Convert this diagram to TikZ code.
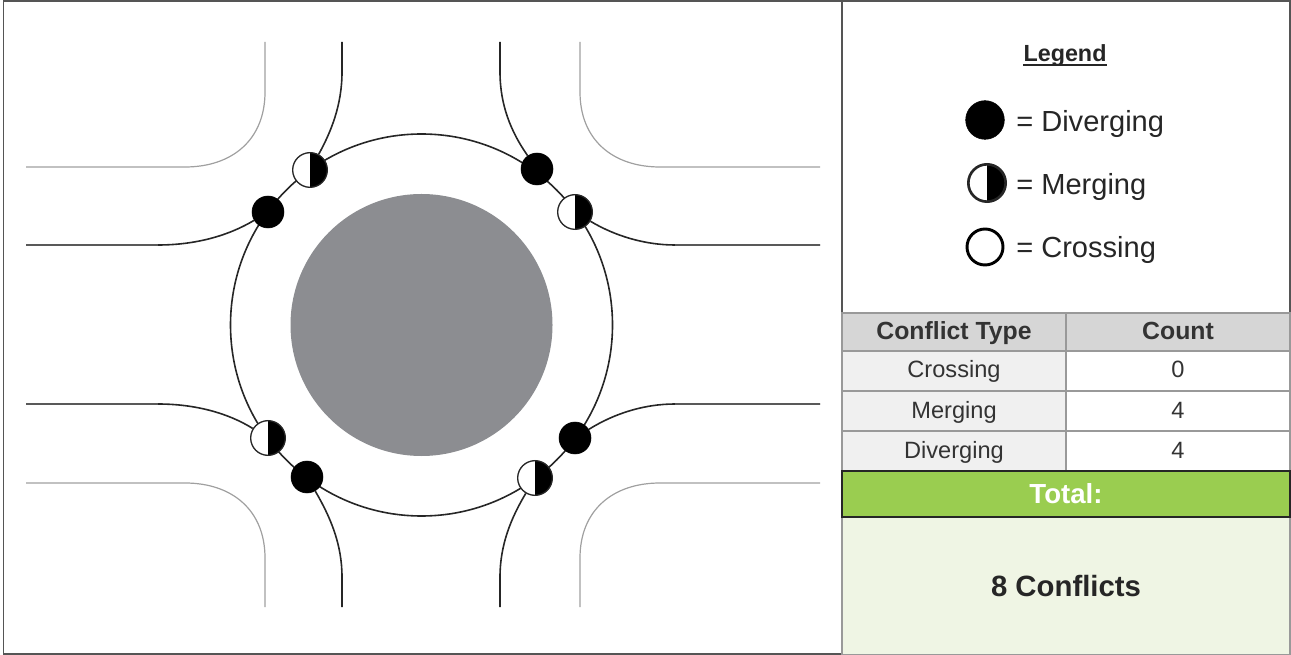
\documentclass[tikz,border=0pt]{standalone}
\usepackage{fontspec}
\setmainfont{Liberation Sans}
\definecolor{islandgray}{RGB}{140,141,145}
\definecolor{curbgray}{RGB}{160,160,160}
\definecolor{framegray}{RGB}{85,85,85}
\definecolor{cellgray}{RGB}{153,153,153}
\definecolor{headfill}{RGB}{214,214,214}
\definecolor{labelfill}{RGB}{240,240,240}
\definecolor{totalgreen}{RGB}{154,205,80}
\definecolor{resultfill}{RGB}{239,245,228}
\definecolor{tabletext}{RGB}{51,51,51}
\tikzset{
  road/.style={line width=1.2pt,color=black!85},
  roadend/.style={line width=1.9pt,color=black!65},
  curb/.style={line width=0.9pt,color=curbgray},
  diverge/.style={circle,fill=black,draw=black,minimum size=24pt,inner sep=0pt},
  merge/.style={circle,fill=white,draw=black!85,line width=1pt,minimum size=26pt,inner sep=0pt,
    path picture={\fill[black] (path picture bounding box.north) rectangle (path picture bounding box.south east);}},
  cross/.style={circle,fill=white,draw=black,line width=2.2pt,minimum size=27pt,inner sep=0pt},
  legendtext/.style={anchor=base west,inner sep=0pt,font=\fontsize{21.8}{24}\selectfont,color=black!85},
  cell/.style={draw=cellgray,line width=1pt,minimum width=168pt,minimum height=30pt,inner sep=0pt,
    text height=13pt,text depth=2.5pt,text=tabletext,font=\fontsize{17.7}{20}\selectfont},
  headcell/.style={cell,fill=headfill,minimum height=28.5pt,text height=14pt,text depth=2pt,font=\fontsize{18.6}{22}\selectfont\bfseries},
}
\begin{document}
\begin{tikzpicture}[x=0.75pt,y=0.75pt,yscale=-1,xscale=1]
\useasboundingbox (0,0) rectangle (1291,655);

%Shape: Island and ring
\node [circle,fill=islandgray,minimum size=196.5pt,inner sep=0pt] (island) at (421.5,325) {};
\node [circle,draw=black!85,line width=1.2pt,minimum size=286.5pt,inner sep=0pt] (ring) at (421.5,325) {};

%Shape: Curbs
\draw [curb] (265,42) -- (265,92) .. controls (265,140) and (232,167) .. (185,167) -- (26,167);
\draw [curb] (580,42) -- (580,92) .. controls (580,140) and (613,167) .. (660,167) -- (820,167);
\draw [curb] (26,483) -- (185,483) .. controls (232,483) and (265,510) .. (265,558) -- (265,607);
\draw [curb] (820,483) -- (660,483) .. controls (613,483) and (580,510) .. (580,558) -- (580,607);

%Shape: Conflict points
\node [merge] (mergeNW) at (310,170) {};
\node [diverge] (divergeNW) at (268,212) {};
\node [diverge] (divergeNE) at (537,169) {};
\node [merge] (mergeNE) at (575,212) {};
\node [merge] (mergeSW) at (268,438) {};
\node [diverge] (divergeSW) at (307,477) {};
\node [merge] (mergeSE) at (535,478) {};
\node [diverge] (divergeSE) at (575,438) {};

%Free road ends
\coordinate (northL) at (342,42);
\coordinate (northR) at (500,42);
\coordinate (southL) at (342,607);
\coordinate (southR) at (500,607);
\coordinate (westU) at (26,245);
\coordinate (westD) at (26,404);
\coordinate (eastU) at (820,245);
\coordinate (eastD) at (820,404);

%Roads
\draw [road] (northL) -- ++(0,30) .. controls (342,105) and (331,132) .. (mergeNW);
\draw [road] (northR) -- ++(0,30) .. controls (500,105) and (511,132) .. (divergeNE);
\draw [road] (southL) -- ++(0,-30) .. controls (342,545) and (331,518) .. (divergeSW);
\draw [road] (southR) -- ++(0,-30) .. controls (500,545) and (511,518) .. (mergeSE);
\draw [road] (westU) -- ++(132,0) .. controls (195,245) and (228,236) .. (divergeNW);
\draw [road] (westD) -- ++(132,0) .. controls (195,404) and (228,413) .. (mergeSW);
\draw [road] (eastU) -- ++(-145,0) .. controls (645,245) and (615,236) .. (mergeNE);
\draw [road] (eastD) -- ++(-145,0) .. controls (645,404) and (615,413) .. (divergeSE);
\draw [roadend] (westU) -- ++(132,0);
\draw [roadend] (westD) -- ++(132,0);
\draw [roadend] (eastU) -- ++(-145,0);
\draw [roadend] (eastD) -- ++(-145,0);

%Frame
\draw [framegray,line width=1pt] (3.5,1) rectangle (1290,654);
\draw [framegray,line width=1pt] (842,1) -- (842,313);

% Legend
\node [anchor=base,inner sep=0pt,font=\fontsize{17.5}{20}\selectfont\bfseries,color=black!85] (legend) at (1065,62) {Legend};
\draw [black!85,line width=1pt] ([yshift=2.2pt]legend.base west) -- ([yshift=2.2pt]legend.base east);
\node [diverge,minimum size=29pt] (keyDiverge) at (985,120) {};
\node [merge,line width=2pt,minimum size=28pt] (keyMerge) at (987,183) {};
\node [cross] (keyCross) at (985,247) {};
\node [legendtext] (textDiverge) at (1016,132) {= Diverging};
\node [legendtext] (textMerge) at (1016,195) {= Merging};
\node [legendtext] (textCross) at (1016,258) {= Crossing};

% Table
\node [headcell] (headType) at (954,332) {Conflict Type};
\node [headcell] (headCount) at (1178,332) {Count};
\node [cell,fill=labelfill] (rowCross) at (954,371) {Crossing};
\node [cell] (countCross) at (1178,371) {0};
\node [cell,fill=labelfill] (rowMerge) at (954,411) {Merging};
\node [cell] (countMerge) at (1178,411) {4};
\node [cell,fill=labelfill] (rowDiverge) at (954,451) {Diverging};
\node [cell] (countDiverge) at (1178,451) {4};

% Total
\node [draw=black!85,fill=totalgreen,line width=1pt,minimum width=336pt,minimum height=34.5pt,inner sep=0pt,
  text height=16pt,text depth=1.5pt,text=white,font=\fontsize{20.7}{24}\selectfont\bfseries] (total) at (1066,494) {Total:};
\node [draw=cellgray,fill=resultfill,line width=1pt,minimum width=336pt,minimum height=103pt,inner sep=0pt,
  text=black!85,font=\fontsize{22}{26}\selectfont\bfseries] (result) at (1066,586) {8 Conflicts};
\draw [draw=black!85,line width=1pt] (total.south west) -- (total.south east);

\end{tikzpicture}
\end{document}
